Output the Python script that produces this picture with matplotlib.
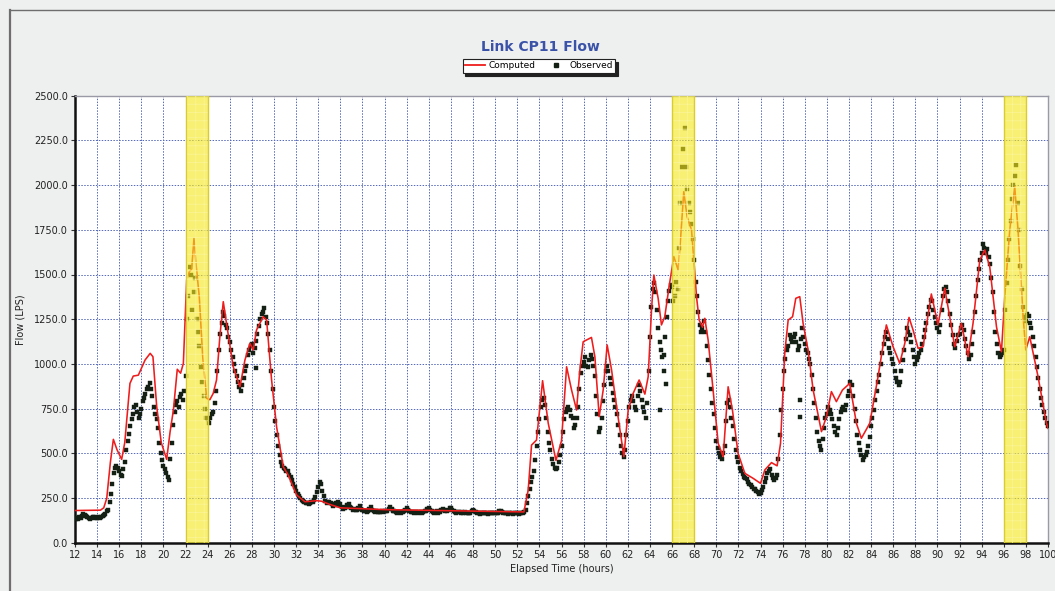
import numpy as np
import matplotlib
matplotlib.use("Agg")
import matplotlib.pyplot as plt
from matplotlib.lines import Line2D

# ---------------- data ----------------
title = "Link CP11 Flow"
x_label = "Elapsed Time (hours)"
y_label = "Flow (LPS)"
x_ticks = list(range(12, 101, 2))
y_ticks = [0, 250, 500, 750, 1000, 1250, 1500, 1750, 2000, 2250, 2500]
highlight_windows = [(22, 24), (66, 68), (96, 98)]

comp_time = [12.0, 14.3, 14.6, 14.87, 15.2, 15.47, 15.8, 16.22, 16.5, 16.97, 17.27, 17.73,
             18.34, 18.8, 19.05, 19.39, 19.8, 20.29, 20.6, 20.9, 21.25, 21.55, 21.8, 22.1,
             22.34, 22.55, 22.76, 22.94, 23.24, 23.55, 23.91, 24.2, 24.5, 24.8, 25.1, 25.41,
             25.7, 26.31, 26.92, 27.37, 27.82, 28.12, 28.42, 29.02, 29.33, 29.78, 30.23, 30.83,
             31.29, 32.04, 32.8, 33.85, 34.3, 35.0, 36.0, 40.0, 45.0, 52.6, 52.99, 53.29,
             53.74, 54.29, 54.8, 55.5, 56.0, 56.46, 56.91, 57.36, 57.66, 57.96, 58.71, 59.02,
             59.41, 59.77, 60.13, 60.53, 60.98, 61.64, 62.03, 62.48, 63.02, 63.54, 63.84, 64.14,
             64.35, 64.74, 65.04, 65.34, 65.73, 66.16, 66.55, 66.76, 67.06, 67.36, 67.76, 68.06,
             68.21, 68.45, 68.75, 68.96, 69.26, 69.71, 70.17, 70.62, 71.07, 71.46, 71.97, 72.58,
             73.33, 74.0, 74.39, 74.99, 75.5, 75.81, 76.2, 76.5, 76.9, 77.19, 77.55, 77.85,
             78.3, 78.76, 79.51, 79.96, 80.41, 80.86, 81.41, 82.07, 82.67, 83.12, 83.88, 84.63,
             85.38, 85.99, 86.59, 87.05, 87.43, 87.8, 88.25, 88.7, 89.45, 90.05, 90.66, 91.11,
             91.56, 92.17, 92.77, 93.22, 93.83, 94.28, 94.73, 95.34, 95.79, 96.09, 96.54, 96.99,
             97.29, 97.75, 97.99, 98.35, 99.1, 99.86, 100.0]
comp_flow = [180, 182, 195, 248, 450, 578, 520, 466, 560, 891, 932, 937,
             1022, 1059, 1040, 761, 560, 466, 620, 742, 970, 948, 1003, 1469,
             1516, 1530, 1702, 1563, 1376, 1040, 807, 800, 835, 910, 1152, 1348,
             1227, 984, 872, 1022, 1115, 1078, 1190, 1264, 1245, 910, 649, 425,
             378, 267, 229, 235, 232, 215, 195, 185, 180, 172, 295, 546,
             574, 906, 668, 460, 570, 984, 854, 742, 966, 1124, 1148, 1040,
             705, 854, 1106, 966, 761, 481, 742, 835, 910, 831, 929, 1301,
             1497, 1367, 1218, 1264, 1432, 1600, 1525, 1693, 1963, 1823, 1749, 1507,
             1376, 1245, 1205, 1255, 1134, 854, 556, 481, 872, 742, 500, 388,
             360, 332, 407, 448, 430, 556, 1068, 1245, 1264, 1367, 1376, 1227,
             1078, 854, 621, 705, 845, 789, 854, 891, 668, 584, 668, 929,
             1218, 1096, 1003, 1115, 1260, 1189, 1087, 1096, 1391, 1218, 1423, 1264,
             1096, 1227, 1040, 1227, 1581, 1637, 1544, 1208, 1068, 1376, 1749, 1991,
             1749, 1264, 1078, 1152, 929, 668, 640]

# observed flow, readings every 0.25 h from 12.0 h (8 readings per row = 2 h)
obs_start = 12.0
obs_step = 0.25
obs_flow = [
    140, 135, 140, 162, 148, 140, 138, 142,        # 12
    136, 140, 148, 162, 185, 270, 390, 430,        # 14
    400, 375, 450, 570, 650, 720, 770, 700,        # 16
    750, 810, 860, 895, 820, 720, 640, 500,        # 18
    430, 390, 350, 560, 730, 790, 815, 800,        # 20
    930, 1380, 1500, 1400, 1250, 1100, 900, 750,   # 22
    690, 700, 730, 850, 1080, 1230, 1270, 1200,    # 24
    1120, 1040, 960, 900, 850, 920, 990, 1080,     # 26
    1110, 1090, 1170, 1250, 1290, 1260, 1170, 960, # 28
    760, 600, 490, 430, 410, 400, 370, 330,        # 30
    290, 260, 240, 225, 220, 222, 230, 255,        # 32
    310, 330, 260, 220, 230, 215, 210, 225,        # 34
    215, 190, 200, 215, 195, 190, 185, 205,        # 36
    185, 175, 180, 200, 180, 175, 170, 175,        # 38
    175, 180, 198, 180, 170, 172, 168, 175,        # 40
    195, 178, 170, 172, 168, 172, 170, 178,        # 42
    195, 175, 168, 175, 170, 190, 180, 185,        # 44
    195, 175, 168, 172, 170, 170, 165, 168,        # 46
    185, 170, 165, 165, 168, 165, 165, 168,        # 48
    165, 168, 180, 168, 165, 165, 165, 165,        # 50
    165, 165, 165, 185, 260, 340, 400, 540,        # 52
    690, 800, 770, 620, 520, 440, 410, 450,        # 54
    540, 690, 750, 740, 700, 660, 760, 950,        # 56
    1010, 990, 1020, 1030, 930, 720, 640, 790,     # 58
    960, 960, 890, 800, 720, 600, 500, 520,        # 60
    680, 800, 790, 740, 880, 800, 730, 780,        # 62
    1150, 1420, 1400, 1200, 1080, 1050, 1260, 1410,# 64
    1430, 1380, 1420, 1900, 2200, 2100, 1900, 1780,# 66
    1580, 1380, 1220, 1200, 1180, 1020, 860, 720,  # 68
    570, 500, 470, 540, 780, 760, 650, 520,        # 70
    450, 400, 370, 355, 330, 310, 300, 285,        # 72
    280, 310, 360, 400, 380, 350, 380, 600,        # 74
    860, 1030, 1100, 1140, 1150, 1120, 1100, 1200, # 76
    1110, 1060, 1000, 860, 700, 570, 520, 640,     # 78
    720, 740, 690, 620, 640, 730, 760, 770,        # 80
    850, 880, 750, 600, 520, 465, 490, 540,        # 82
    650, 740, 850, 940, 1060, 1150, 1140, 1060,    # 84
    1000, 920, 880, 960, 1080, 1200, 1160, 1080,   # 86
    1000, 1040, 1080, 1150, 1230, 1320, 1350, 1260,# 88
    1200, 1220, 1380, 1430, 1350, 1220, 1110, 1130,# 90
    1170, 1220, 1140, 1060, 1050, 1180, 1380, 1530,# 92
    1620, 1650, 1640, 1560, 1400, 1180, 1060, 1050,# 94
    1080, 1450, 1700, 1920, 2050, 1900, 1550, 1320,# 96
    1240, 1270, 1200, 1100, 980, 860, 770, 700,    # 98
    650,                                           # 100
]
# observed flow, readings in between, from 12.125 h every 0.25 h
obs_mid_start = 12.125
obs_mid_flow = [
    132, 145, 150, 155, 142, 135, 145, 138,        # 12
    145, 142, 155, 175, 225, 330, 420, 415,        # 14
    380, 410, 520, 610, 690, 760, 730, 720,        # 16
    790, 830, 870, 860, 760, 690, 560, 460,        # 18
    410, 370, 470, 660, 770, 760, 830, 850,        # 20
    1250, 1540, 1300, 1480, 1180, 980, 820, 700,   # 22
    670, 720, 780, 960, 1170, 1290, 1220, 1150,    # 24
    1080, 1000, 930, 870, 880, 960, 1050, 1100,    # 26
    1060, 1130, 1210, 1280, 1310, 1230, 1080, 860, # 28
    680, 540, 450, 420, 400, 380, 350, 310,        # 30
    275, 248, 232, 220, 215, 225, 240, 285,        # 32
    340, 290, 235, 225, 220, 205, 220, 210,        # 34
    200, 195, 210, 200, 185, 185, 195, 190,        # 36
    180, 172, 190, 185, 172, 170, 172, 170,        # 38
    178, 190, 188, 175, 168, 170, 172, 185,        # 40
    185, 172, 168, 170, 170, 168, 175, 188,        # 42
    182, 170, 172, 168, 182, 185, 178, 192,        # 44
    182, 170, 170, 168, 168, 165, 165, 178,        # 46
    175, 166, 163, 166, 165, 163, 166, 165,        # 48
    165, 175, 172, 166, 163, 165, 163, 165,        # 50
    163, 165, 170, 220, 300, 370, 460, 620,        # 52
    760, 810, 700, 560, 470, 420, 420, 490,        # 54
    620, 730, 760, 710, 640, 700, 860, 990,        # 56
    1040, 980, 1050, 990, 820, 620, 700, 880,      # 58
    990, 920, 840, 760, 660, 540, 480, 600,        # 60
    760, 820, 760, 820, 850, 760, 700, 960,        # 62
    1320, 1450, 1300, 1120, 1040, 1150, 1350, 1440,# 64
    1350, 1460, 1650, 2100, 2320, 1980, 1850, 1700,# 66
    1460, 1290, 1180, 1240, 1100, 940, 780, 640,   # 68
    530, 480, 500, 680, 800, 700, 580, 480,        # 70
    420, 385, 360, 340, 320, 300, 290, 275,        # 72
    295, 340, 390, 410, 360, 360, 470, 740,        # 74
    960, 1080, 1160, 1120, 1170, 1080, 1140, 1150, # 76
    1080, 1030, 940, 780, 620, 540, 580, 700,      # 78
    760, 720, 650, 600, 690, 750, 740, 820,        # 80
    900, 820, 680, 560, 490, 480, 510, 590,        # 82
    700, 800, 900, 1000, 1110, 1180, 1090, 1030,   # 84
    960, 900, 900, 1020, 1140, 1180, 1120, 1040,   # 86
    1020, 1060, 1110, 1190, 1280, 1360, 1300, 1230,# 88
    1180, 1300, 1420, 1400, 1280, 1160, 1090, 1160,# 90
    1200, 1190, 1100, 1030, 1110, 1290, 1470, 1580,# 92
    1670, 1620, 1600, 1480, 1290, 1110, 1040, 1060,# 94
    1300, 1580, 1800, 2000, 2110, 1750, 1420, 1260,# 96
    1280, 1230, 1150, 1040, 920, 810, 730, 670,    # 98
]
# isolated observed readings away from the main trace
obs_outlier_time = [28.33, 64.9, 65.3, 65.45, 77.55, 77.6]
obs_outlier_flow = [975, 740, 960, 890, 798, 705]

obs_time = np.concatenate([obs_start + obs_step * np.arange(len(obs_flow)),
                           obs_mid_start + obs_step * np.arange(len(obs_mid_flow)),
                           np.array(obs_outlier_time)])
obs_all = np.concatenate([obs_flow, obs_mid_flow, obs_outlier_flow])

# ---------------- figure ----------------
W, H = 1055, 591
fig = plt.figure(figsize=(W / 100, H / 100), dpi=100)
fig.patch.set_facecolor("#eeefef")
plt.rcParams["hatch.linewidth"] = 0.5

# outer frame lines
fig.add_artist(Line2D([10 / W, 10 / W], [0, 1 - 10 / H], color="#6e6e6e", lw=1.6, transform=fig.transFigure))
fig.add_artist(Line2D([10 / W, 1], [1 - 10 / H, 1 - 10 / H], color="#6e6e6e", lw=1.0, transform=fig.transFigure))

ax_l, ax_r = 75 / W, 1048 / W
ax_t, ax_b = 95.7 / H, 542.7 / H
ax = fig.add_axes([ax_l, 1 - ax_b, ax_r - ax_l, ax_b - ax_t])
ax.set_facecolor("white")

ax.set_xlim(12, 100)
ax.set_ylim(0, 2500)
ax.set_xticks(x_ticks)
ax.set_yticks(y_ticks)
ax.set_xticklabels([str(v) for v in x_ticks], fontsize=7, color="#222222")
ax.set_yticklabels([f"{v:.1f}" for v in y_ticks], fontsize=7, color="#222222")
ax.tick_params(axis="both", length=3, width=0.8, pad=2, color="#333333")

ax.grid(True, color="#5468b8", linestyle=(0, (1.5, 1.5)), linewidth=0.7)
ax.set_axisbelow(True)

for s in ["left", "bottom"]:
    ax.spines[s].set_linewidth(1.8)
    ax.spines[s].set_color("#111111")
for s in ["top", "right"]:
    ax.spines[s].set_linewidth(1.0)
    ax.spines[s].set_color("#9a9aa6")

ax.plot(obs_time, obs_all, linestyle="none", marker="s", markersize=2.4,
        markerfacecolor="#142014", markeredgecolor="#142014", markeredgewidth=0.3, zorder=3)
ax.plot(comp_time, comp_flow, color="#ee1c1c", lw=1.15, zorder=4)

for a, b in highlight_windows:
    ax.axvspan(a, b, facecolor="#f5e81c", alpha=0.62, edgecolor="none", zorder=5)
    ax.axvspan(a, b, facecolor="none", edgecolor="#fbf49a", hatch="++", lw=0, zorder=5.5)
    ax.axvline(a, color="#d8cc30", lw=1.0, zorder=6)
    ax.axvline(b, color="#d8cc30", lw=1.0, zorder=6)

ax.set_xlabel(x_label, fontsize=7, color="#222222", labelpad=3)
ax.set_ylabel(y_label, fontsize=7, color="#222222", labelpad=6)

fig.text(540 / W, 1 - 47 / H, title, ha="center", va="center", fontsize=10,
         fontweight="bold", color="#3a52a8")

handles = [Line2D([], [], color="#ee1c1c", lw=1.3),
           Line2D([], [], linestyle="none", marker="s", markersize=2.3, color="#142014")]
leg = fig.legend(handles, ["Computed", "Observed"], loc="center",
                 bbox_to_anchor=(539 / W, 1 - 66 / H), ncol=2, fontsize=6.5,
                 frameon=True, fancybox=False, shadow={"color": "#222222", "alpha": 1.0},
                 handlelength=2.2, columnspacing=1.1, handletextpad=0.4, borderpad=0.3)
leg.get_frame().set_edgecolor("#222222")
leg.get_frame().set_linewidth(0.8)

fig.savefig("out.png", dpi=100, facecolor=fig.get_facecolor())
